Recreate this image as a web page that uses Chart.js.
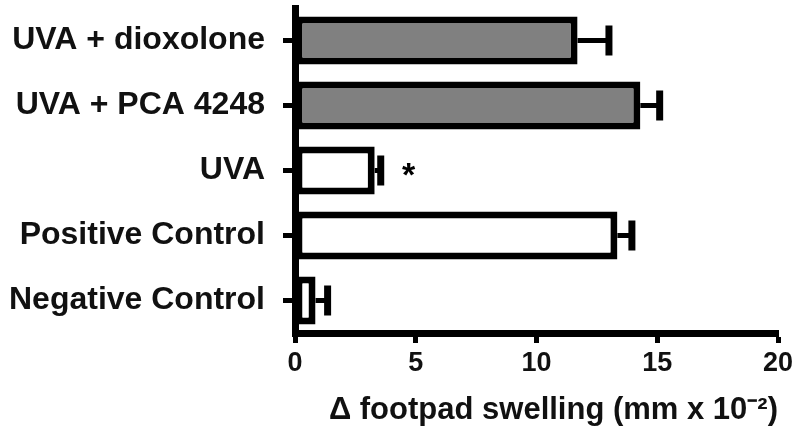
<!DOCTYPE html>
<html>
<head>
<meta charset="utf-8">
<script src="https://cdn.jsdelivr.net/npm/chart.js@4"></script>
<style>
  html, body { margin: 0; padding: 0; background: #fff; }
  #wrap { width: 800px; height: 437px; }
</style>
</head>
<body>
<div id="wrap"><canvas id="chart" width="800" height="437"></canvas></div>
<script>
// données
const groups = ['UVA + dioxolone', 'UVA + PCA 4248', 'UVA', 'Positive Control', 'Negative Control'];
const swelling = [11.7, 14.3, 3.3, 13.35, 0.85];
const sem = [1.3, 0.8, 0.25, 0.6, 0.5];
const stars = ['', '', '*', '', ''];
const fills = ['#808080', '#808080', '#ffffff', '#ffffff', '#ffffff'];
const xTicks = [0, 5, 10, 15, 20];

// barres d'erreur + astérisque
const errorBars = {
  id: 'errorBars',
  afterDatasetsDraw(chart) {
    const ctx = chart.ctx;
    const meta = chart.getDatasetMeta(0);
    const x = chart.scales.x;
    ctx.save();
    ctx.strokeStyle = '#000';
    meta.data.forEach((bar, i) => {
      const x0 = x.getPixelForValue(swelling[i]);
      const x1 = x.getPixelForValue(swelling[i] + sem[i]);
      const y = bar.y;
      ctx.lineWidth = 5;
      ctx.beginPath();
      ctx.moveTo(x0, y);
      ctx.lineTo(x1, y);
      ctx.stroke();
      ctx.lineWidth = 7;
      ctx.beginPath();
      ctx.moveTo(x1, y - 15);
      ctx.lineTo(x1, y + 15);
      ctx.stroke();
      if (stars[i]) {
        ctx.fillStyle = '#000';
        ctx.font = 'bold 34px "Liberation Sans", Arial, sans-serif';
        ctx.textAlign = 'center';
        ctx.textBaseline = 'middle';
        ctx.fillText(stars[i], x1 + 28, y + 6);
      }
    });
    ctx.restore();
  }
};

new Chart(document.getElementById('chart'), {
  type: 'bar',
  data: {
    labels: groups,
    datasets: [{
      data: swelling,
      backgroundColor: fills,
      borderColor: '#000',
      borderWidth: 7,
      borderSkipped: false,
      categoryPercentage: 1,
      barPercentage: 0.74
    }]
  },
  options: {
    indexAxis: 'y',
    responsive: false,
    animation: false,
    layout: { padding: { top: 8, right: 22, left: 0, bottom: 0 } },
    plugins: { legend: { display: false }, tooltip: { enabled: false } },
    scales: {
      x: {
        min: 0,
        max: 20,
        afterBuildTicks: (scale) => { scale.ticks = xTicks.map(v => ({ value: v })); },
        afterFit: (scale) => { scale.height = 104; },
        border: { display: true, color: '#000', width: 7 },
        grid: { display: true, drawOnChartArea: false, drawTicks: true, tickLength: 10, tickWidth: 5, tickColor: '#000' },
        ticks: {
          color: '#111',
          padding: 4,
          maxRotation: 0,
          font: { family: '"Liberation Sans", Arial, sans-serif', size: 27, weight: 'bold' }
        },
        title: {
          display: true,
          text: '\u0394 footpad swelling (mm x 10\u207B\u00B2)',
          align: 'end',
          color: '#111',
          padding: { top: 8, bottom: 8 },
          font: { family: '"Liberation Sans", Arial, sans-serif', size: 31, weight: 'bold' }
        }
      },
      y: {
        afterFit: (scale) => {
          scale.width = 295;
          scale.paddingTop = 0;
          scale.paddingBottom = 0;
        },
        border: { display: true, color: '#000', width: 7 },
        grid: { display: true, offset: false, drawOnChartArea: false, drawTicks: true, tickLength: 12, tickWidth: 5, tickColor: '#000' },
        ticks: {
          color: '#111',
          padding: 18,
          font: { family: '"Liberation Sans", Arial, sans-serif', size: 32, weight: 'bold' }
        }
      }
    }
  },
  plugins: [errorBars]
});
</script>
</body>
</html>
